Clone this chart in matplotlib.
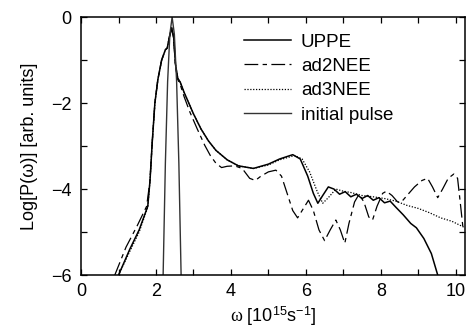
import matplotlib
matplotlib.use('Agg')
import matplotlib.pyplot as plt
from matplotlib.ticker import MultipleLocator

plt.rcParams['font.family'] = ['Liberation Sans', 'DejaVu Sans']
plt.rcParams['mathtext.fontset'] = 'custom'
plt.rcParams['mathtext.rm'] = 'Liberation Sans'
plt.rcParams['mathtext.it'] = 'Liberation Serif'
plt.rcParams['mathtext.sf'] = 'Liberation Sans'

# spectra, log10 scale
uppe_x = [1.0, 1.3, 1.55, 1.78, 1.84, 1.9, 1.97, 2.05, 2.15, 2.25, 2.3, 2.36, 2.42,
          2.47, 2.52, 2.58, 2.65, 2.75, 2.9, 3.0, 3.2, 3.4, 3.6, 3.9, 4.2, 4.6,
          5.0, 5.3, 5.65, 5.85, 6.05, 6.2, 6.32, 6.45, 6.6, 6.75, 6.9, 7.05, 7.2,
          7.35, 7.5, 7.65, 7.8, 7.95, 8.1, 8.25, 8.4, 8.6, 8.8, 8.95, 9.15, 9.35, 9.52]
uppe_y = [-6.0, -5.4, -4.95, -4.4, -3.8, -2.9, -2.0, -1.45, -1.0, -0.76, -0.72, -0.45, -0.25,
          -0.45, -1.1, -1.42, -1.52, -1.75, -2.05, -2.25, -2.6, -2.88, -3.1, -3.32, -3.46, -3.52,
          -3.42, -3.3, -3.2, -3.3, -3.7, -4.1, -4.33, -4.15, -3.95, -4.0, -4.12, -4.06, -4.18,
          -4.12, -4.22, -4.15, -4.26, -4.2, -4.32, -4.28, -4.42, -4.6, -4.8, -4.9, -5.15, -5.5, -6.0]

ad2_x = [0.9, 1.2, 1.5, 1.75, 1.84, 1.9, 1.97, 2.05, 2.15, 2.25, 2.3, 2.36, 2.42,
         2.47, 2.52, 2.58, 2.65, 2.75, 2.9, 3.1, 3.3, 3.45, 3.6, 3.75, 3.9, 4.1,
         4.3, 4.5, 4.65, 4.8, 5.0, 5.2, 5.35, 5.5, 5.65, 5.78, 5.9, 6.07, 6.2,
         6.35, 6.5, 6.65, 6.8, 6.92, 7.04, 7.15, 7.3, 7.42, 7.55, 7.68, 7.78, 7.9,
         8.05, 8.15, 8.3, 8.45, 8.55, 8.7, 8.9, 9.1, 9.25, 9.38, 9.52, 9.65, 9.8,
         9.95, 10.05, 10.12, 10.2]
ad2_y = [-6.0, -5.35, -4.85, -4.4, -3.8, -2.9, -2.0, -1.45, -1.0, -0.76, -0.72, -0.45, -0.28,
         -0.5, -1.15, -1.45, -1.58, -1.85, -2.2, -2.6, -2.98, -3.22, -3.4, -3.5, -3.47, -3.46,
         -3.52, -3.75, -3.8, -3.7, -3.6, -3.56, -3.7, -4.1, -4.5, -4.67, -4.5, -4.26, -4.5,
         -4.95, -5.2, -4.95, -4.72, -4.95, -5.26, -4.8, -4.3, -4.12, -4.3, -4.65, -4.72, -4.4,
         -4.1, -4.05, -4.15, -4.3, -4.3, -4.15, -3.95, -3.8, -3.75, -3.95, -4.2, -4.0, -3.75,
         -3.65, -3.75, -4.3, -4.95]

ad3_x = [1.0, 1.3, 1.55, 1.78, 1.84, 1.9, 1.97, 2.05, 2.15, 2.25, 2.3, 2.36, 2.42,
         2.47, 2.52, 2.58, 2.65, 2.75, 2.9, 3.0, 3.2, 3.4, 3.6, 3.9, 4.2, 4.6,
         5.0, 5.3, 5.7, 5.9, 6.1, 6.3, 6.45, 6.6, 6.8, 7.0, 7.2, 7.5, 7.8, 8.1,
         8.4, 8.7, 9.0, 9.3, 9.6, 9.9, 10.25]
ad3_y = [-6.0, -5.45, -5.0, -4.42, -3.8, -2.9, -2.0, -1.45, -1.0, -0.76, -0.72, -0.45, -0.25,
         -0.45, -1.1, -1.42, -1.52, -1.75, -2.05, -2.25, -2.6, -2.88, -3.1, -3.32, -3.46, -3.52,
         -3.44, -3.32, -3.22, -3.3, -3.6, -4.05, -4.33, -4.2, -4.0, -4.05, -4.08, -4.15, -4.18, -4.22,
         -4.28, -4.38, -4.45, -4.55, -4.67, -4.75, -4.9]

pulse_x = [2.19, 2.25, 2.31, 2.37, 2.43, 2.49, 2.55, 2.61, 2.67]
pulse_y = [-6.0, -3.4, -1.5, -0.4, 0.0, -0.4, -1.5, -3.4, -6.0]

fig = plt.figure(figsize=(4.66, 3.29), dpi=100)
ax = fig.add_axes([0.174, 0.164, 0.824, 0.784])

ax.plot(uppe_x, uppe_y, color='black', lw=1.1, label='UPPE')
ax.plot(ad2_x, ad2_y, color='black', lw=0.9, dashes=(11, 3.5, 3.5, 3.5), label='ad2NEE')
ax.plot(ad3_x, ad3_y, color='black', lw=0.9, dashes=(1, 1.3), label='ad3NEE')
ax.plot(pulse_x, pulse_y, color='#333333', lw=1.0, label='initial pulse')

ax.set_xlim(0, 10.25)
ax.set_ylim(-6, 0)
ax.xaxis.set_major_locator(MultipleLocator(2))
ax.xaxis.set_minor_locator(MultipleLocator(1))
ax.yaxis.set_major_locator(MultipleLocator(2))
ax.yaxis.set_minor_locator(MultipleLocator(1))
ax.tick_params(which='both', direction='in', top=True, right=True, length=4.5, width=0.9,
               labelsize=13)
ax.tick_params(axis='x', pad=6)
ax.tick_params(axis='y', pad=7)
ax.set_yticks([-6, -4, -2, 0])
ax.set_yticklabels(['\u22126', '\u22124', '\u22122', '0'])
for s in ax.spines.values():
    s.set_linewidth(1.1)

ax.set_xlabel(r'$\omega$ [10$^{15}$s$^{-1}$]', fontsize=13, labelpad=3)
ax.set_ylabel('Log[P(\u03c9)] [arb. units]', fontsize=13, labelpad=9)

ax.legend(loc='upper left', frameon=False, fontsize=13.5, handlelength=2.5,
          labelspacing=0.38, handletextpad=0.53, borderaxespad=0,
          bbox_to_anchor=(0.405, 0.965))

fig.savefig('out.png', dpi=100)
